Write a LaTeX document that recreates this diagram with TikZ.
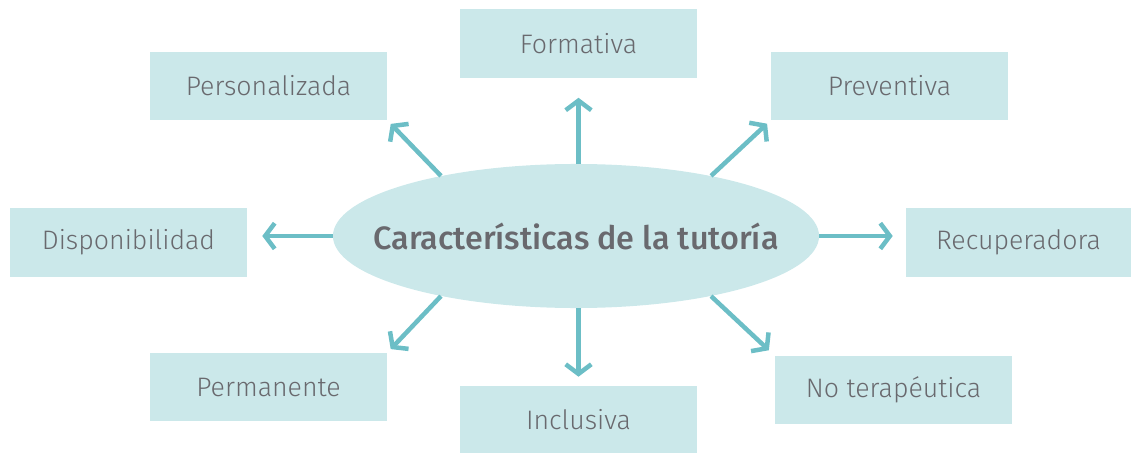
\documentclass[tikz,border=0pt]{standalone}
\usepackage{fontspec}
\setmainfont{Fira Sans}[UprightFont={* Light}, BoldFont={* Medium}]
\usetikzlibrary{arrows.meta, shapes.geometric}

\definecolor{boxfill}{RGB}{203,232,234}
\definecolor{spokecol}{RGB}{108,190,198}
\definecolor{textgray}{RGB}{105,105,110}

\tikzset{
  featbox/.style={fill=boxfill, text=textgray, minimum height=1.7cm,
    inner sep=0pt, font=\fontsize{19}{21}\selectfont},
  hub/.style={ellipse, fill=boxfill, text=textgray, minimum width=12.15cm,
    minimum height=3.6cm, inner xsep=-0.8cm, inner ysep=0pt,
    font=\fontsize{23}{27}\selectfont\bfseries},
  spoke/.style={draw=spokecol, line width=3.2pt,
    -{Straight Barb[length=2.4mm, width=6.4mm]}}
}

\begin{document}
\begin{tikzpicture}[x=0.025cm, y=-0.025cm]

    % Fix the canvas
    \useasboundingbox (0, 0) rectangle (1132, 453);

    % Draw centre
    \node[hub] (main) at (576, 236) {Características de la tutoría};

    % Draw boxes
    \foreach \name/\x/\y/\w/\txt in {
        personal/268.5/86/237/Personalizada,
        formativa/578.5/43.5/237/Formativa,
        preventiva/889.5/86/237/Preventiva,
        disp/128.5/242.5/237/Disponibilidad,
        recup/1018.5/242.5/225/Recuperadora,
        permanente/268.5/387/237/Permanente,
        inclusiva/578.5/420/237/Inclusiva,
        noterap/893.5/390/237/No terapéutica}{
      \node[featbox, minimum width=\w*0.025cm] (\name) at (\x, \y) {\txt};
    }

    % Draw spokes
    \draw[spoke, shorten >=0.5cm] (formativa.south |- main.north)
      -- (formativa.south);
    \draw[spoke, shorten >=0.225cm] (inclusiva.north |- main.south)
      -- (inclusiva.north);
    \draw[spoke, shorten >=0.375cm] (main.west) -- (disp.east |- main.west);
    \draw[spoke, shorten >=0.325cm] (main.east) -- (recup.west |- main.east);
    \draw[spoke, shorten >=0.125cm] (main.156) -- (personal.south east);
    \draw[spoke, shorten >=0.125cm] (main.24) -- (preventiva.south west);
    \draw[spoke, shorten >=0.125cm] (main.204) -- (permanente.north east);
    \draw[spoke, shorten >=0.2cm] (main.336) -- (noterap.north west);

  \end{tikzpicture}
\end{document}
